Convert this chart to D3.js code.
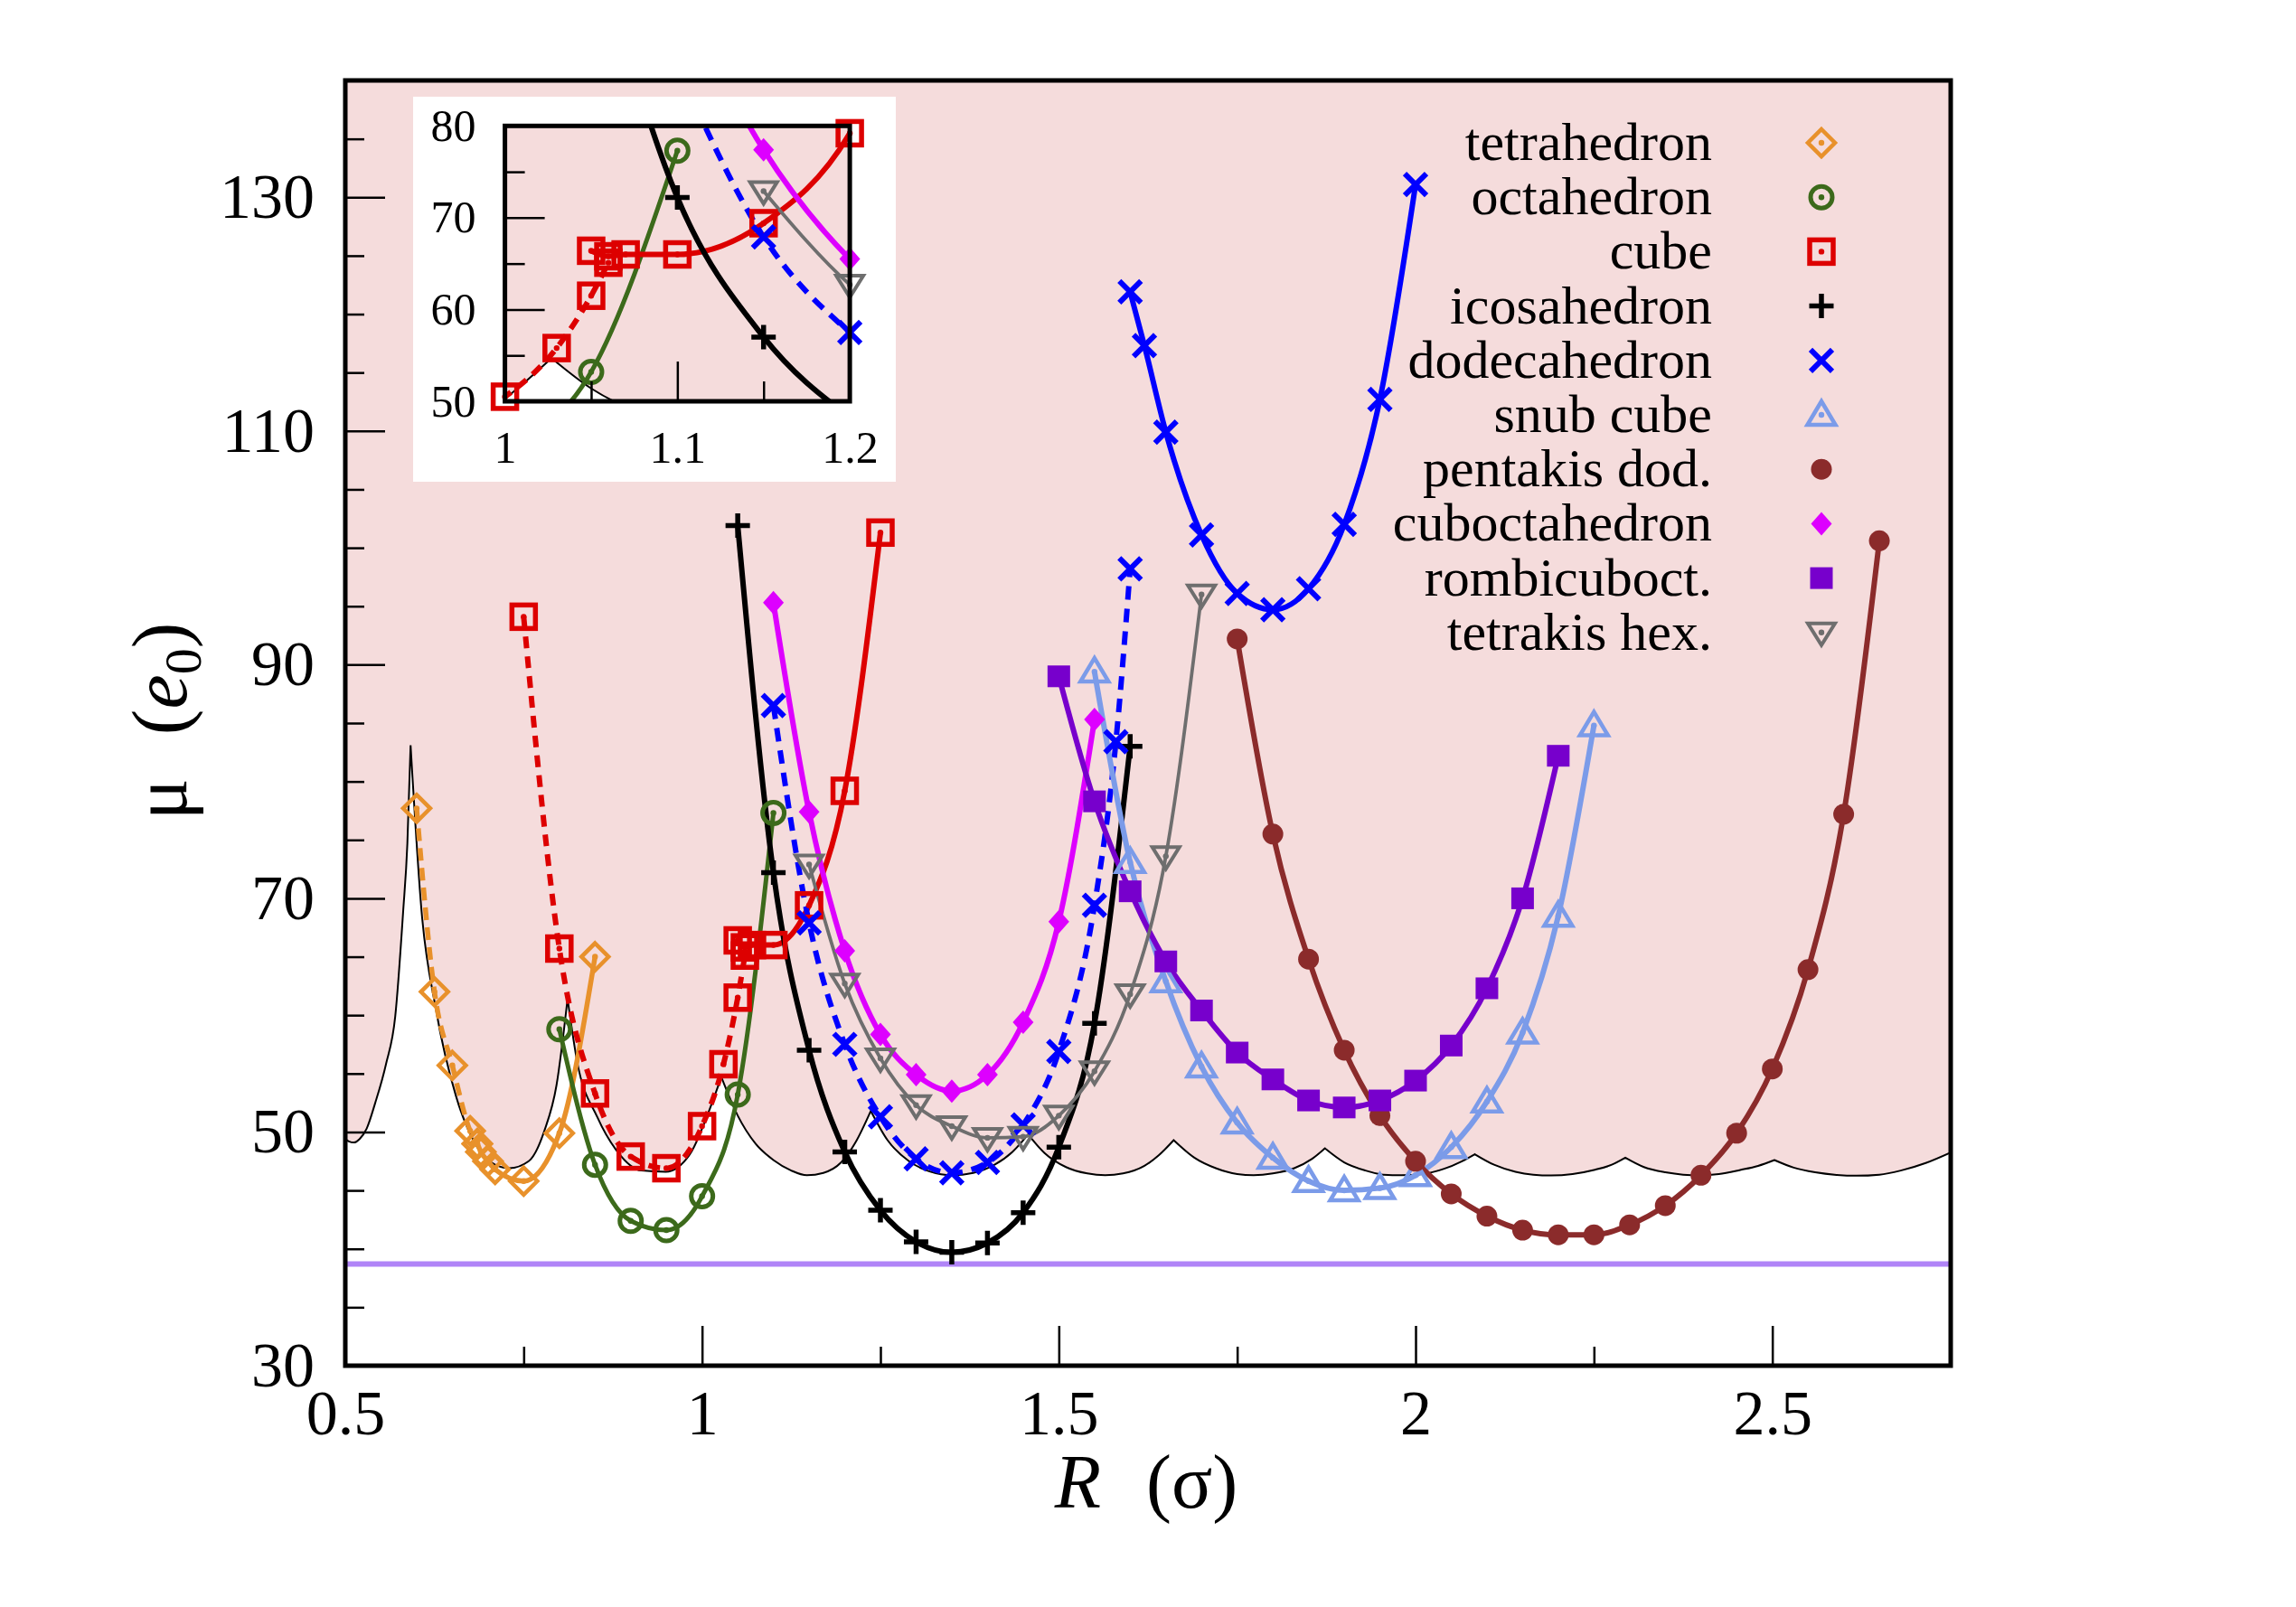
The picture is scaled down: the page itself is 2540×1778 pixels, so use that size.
<!DOCTYPE html>
<html>
<head>
<meta charset="utf-8">
<script src="https://cdnjs.cloudflare.com/ajax/libs/d3/7.8.5/d3.min.js"></script>
<style>
  body { margin: 0; background: #fff; }
  text { font-family: "Liberation Serif", "Times New Roman", serif; fill: #000; }
</style>
</head>
<body>
<div id="chart"></div>
<script>
/* ------------------------------- data ------------------------------- */
// [R, mu] pairs
var tetraDashed = [[0.6,77.7],[0.625,62.0],[0.65,55.7],[0.675,50.1],[0.685,49.0]];
var tetraSolid  = [[0.685,49.0],[0.69,48.3],[0.70,47.5],[0.71,46.8],[0.75,45.8],[0.80,49.9],[0.85,65.0]];
var octa        = [[0.8,58.8],[0.85,47.2],[0.9,42.4],[0.95,41.6],[1.0,44.5],[1.05,53.2],[1.1,77.3]];
var cubeDashed  = [[0.75,94.1],[0.8,65.7],[0.85,53.3],[0.9,47.9],[0.95,46.9],[1.0,50.5],[1.03,55.8],[1.05,61.5],[1.06,65.1]];
var cubeSolid   = [[1.05,66.4],[1.06,65.8],[1.07,66.0],[1.1,66.0],[1.15,69.4],[1.2,79.2],[1.25,101.3]];
var ico         = [[1.05,101.9],[1.1,72.2],[1.15,57.0],[1.2,48.3],[1.25,43.3],[1.3,40.6],[1.35,39.7],[1.4,40.5],[1.45,43.1],[1.5,48.7],[1.55,59.3],[1.6,83.0]];
var dodecaDashed = [[1.1,86.5],[1.15,67.9],[1.2,57.5],[1.25,51.3],[1.3,47.7],[1.35,46.5],[1.4,47.4],[1.45,50.6],[1.5,56.9],[1.55,69.4],[1.58,83.4],[1.6,98.2]];
var dodecaSolid  = [[1.6,121.9],[1.62,117.3],[1.65,109.9],[1.7,101.1],[1.75,96.1],[1.8,94.7],[1.85,96.5],[1.9,102.0],[1.95,112.7],[2.0,131.1]];
var snub        = [[1.55,89.4],[1.6,73.1],[1.65,62.9],[1.7,55.6],[1.75,50.8],[1.8,47.8],[1.85,45.8],[1.9,45.0],[1.95,45.2],[2.0,46.3],[2.05,48.7],[2.1,52.6],[2.15,58.5],[2.2,68.5],[2.25,84.8]];
var pentakis    = [[1.75,92.2],[1.8,75.5],[1.85,64.8],[1.9,57.0],[1.95,51.4],[2.0,47.5],[2.05,44.7],[2.1,42.8],[2.15,41.6],[2.2,41.2],[2.25,41.2],[2.3,42.05],[2.35,43.7],[2.4,46.3],[2.45,49.9],[2.5,55.4],[2.55,63.9],[2.6,77.2],[2.65,100.6]];
var cubo        = [[1.1,95.3],[1.15,77.4],[1.2,65.5],[1.25,58.35],[1.3,54.9],[1.35,53.5],[1.4,54.9],[1.45,59.4],[1.5,68.0],[1.55,85.3]];
var rombi       = [[1.5,89.0],[1.55,78.3],[1.6,70.6],[1.65,64.6],[1.7,60.4],[1.75,56.8],[1.8,54.5],[1.85,52.7],[1.9,52.1],[1.95,52.7],[2.0,54.4],[2.05,57.4],[2.1,62.3],[2.15,70.0],[2.2,82.2]];
var tetrakis    = [[1.15,72.9],[1.2,62.7],[1.25,56.3],[1.3,52.3],[1.35,50.5],[1.4,49.5],[1.45,49.6],[1.5,51.4],[1.55,55.2],[1.6,61.8],[1.65,73.6],[1.7,96.0]];

// thin black boundary (pink above it), one arc between each pair of cusps
var boundaryArcs = [
  [[0.5,49.4],[0.505,49.2],[0.512,49.1],[0.52,49.4],[0.53,50.3],[0.542,52.5],[0.557,55.8],[0.57,59.9],[0.581,68.8],[0.587,74.7],[0.5915,83.1]],
  [[0.5915,83.1],[0.607,68.8],[0.627,60.5],[0.655,53.1],[0.683,48.9],[0.71,47.2],[0.73,46.9],[0.757,47.5],[0.779,50.1],[0.796,54.0],[0.8115,61.4]],
  [[0.8115,61.4],[0.825,56.0],[0.853,51.3],[0.881,48.35],[0.915,46.7],[0.949,46.6],[0.983,48.1],[1.011,52.0],[1.027,54.7]],
  [[1.027,54.7],[1.05,51.4],[1.075,49.0],[1.1,47.6],[1.125,46.7],[1.147,46.3],[1.17,46.5],[1.195,47.4],[1.215,49.1],[1.2365,51.8]],
  [[1.2365,51.8],[1.26,49.3],[1.29,47.5],[1.32,46.6],[1.35,46.3],[1.38,46.5],[1.41,47.2],[1.435,48.3],[1.457,49.8]],
  [[1.457,49.8],[1.48,48.2],[1.51,47.0],[1.54,46.45],[1.565,46.3],[1.59,46.45],[1.62,47.1],[1.64,48.0],[1.661,49.3]],
  [[1.661,49.3],[1.69,47.8],[1.72,46.9],[1.75,46.4],[1.773,46.3],[1.8,46.45],[1.83,46.9],[1.855,47.7],[1.873,48.6]],
  [[1.873,48.6],[1.9,47.4],[1.93,46.7],[1.955,46.35],[1.98,46.3],[2.01,46.4],[2.04,46.85],[2.065,47.5],[2.083,48.1]],
  [[2.083,48.1],[2.11,47.2],[2.14,46.6],[2.165,46.35],[2.19,46.28],[2.22,46.4],[2.25,46.75],[2.275,47.2],[2.294,47.8]],
  [[2.294,47.8],[2.32,47.0],[2.35,46.55],[2.375,46.35],[2.398,46.3],[2.425,46.4],[2.455,46.75],[2.48,47.1],[2.503,47.6]],
  [[2.503,47.6],[2.53,46.95],[2.56,46.55],[2.59,46.33],[2.618,46.26],[2.65,46.35],[2.68,46.7],[2.715,47.35],[2.75,48.25]]
];
var groundLevel = 38.7;

// axes
var xDomain = [0.5, 2.75], yDomain = [30, 140];
var xMajorTicks = [0.5, 1, 1.5, 2, 2.5];
var xMinorTicks = [0.75, 1.25, 1.75, 2.25];
var yMajorTicks = [30, 50, 70, 90, 110, 130];
var yMinorTicks = [35, 40, 45, 55, 60, 65, 75, 80, 85, 95, 100, 105, 115, 120, 125, 135];
var insetXDomain = [1, 1.2], insetYDomain = [50, 80];
var insetXMajorTicks = [1, 1.1, 1.2];
var insetXMinorTicks = [1.05, 1.15];
var insetYMajorTicks = [50, 60, 70, 80];
var insetYMinorTicks = [55, 65, 75];

var legendNames = ["tetrahedron", "octahedron", "cube", "icosahedron", "dodecahedron",
  "snub cube", "pentakis dod.", "cuboctahedron", "rombicuboct.", "tetrakis hex."];

/* ------------------------------- styles ------------------------------- */
var series = [
  { color: "#e8912b", marker: "diamondOpen", lw: 5.5, segs: [{ pts: tetraDashed, dash: "14,8" }, { pts: tetraSolid }] },
  { color: "#3c6a1b", marker: "circleOpen", lw: 5, segs: [{ pts: octa }] },
  { color: "#dd0000", marker: "squareOpen", lw: 6, segs: [{ pts: cubeDashed, dash: "13,9" }, { pts: cubeSolid }] },
  { color: "#000000", marker: "plus", lw: 6, segs: [{ pts: ico }] },
  { color: "#0000ff", marker: "cross", lw: 6, segs: [{ pts: dodecaDashed, dash: "15,10" }, { pts: dodecaSolid }] },
  { color: "#7b9be9", marker: "triUpOpen", lw: 6, segs: [{ pts: snub }] },
  { color: "#8b2b2b", marker: "circleFilled", lw: 6, segs: [{ pts: pentakis }] },
  { color: "#dd00ff", marker: "diamondFilled", lw: 6, segs: [{ pts: cubo }] },
  { color: "#7700cc", marker: "squareFilled", lw: 6, segs: [{ pts: rombi }] },
  { color: "#6e6e6e", marker: "triDownOpen", lw: 3.8, segs: [{ pts: tetrakis }] }
];

var pink = "#f5dcdc";
var w = 2540, h = 1778;
var margin = { top: 89, left: 382 };
var width = 1776, height = 1422;

var svg = d3.select("#chart").append("svg")
  .attr("width", w)
  .attr("height", h);
svg.append("rect").attr("width", w).attr("height", h).attr("fill", "#fff");

// one marker glyph centred on (cx, cy)
function addMarker(g, type, color, cx, cy) {
  var m = g.append("g").attr("transform", "translate(" + cx + "," + cy + ")");
  var dot = false;
  if (type == "diamondOpen") {
    m.append("path").attr("d", "M0,-15L15,0L0,15L-15,0Z").attr("fill", "none").attr("stroke", color).attr("stroke-width", 4.5);
    dot = true;
  } else if (type == "circleOpen") {
    m.append("circle").attr("r", 12).attr("fill", "none").attr("stroke", color).attr("stroke-width", 5);
    dot = true;
  } else if (type == "squareOpen") {
    m.append("rect").attr("x", -13).attr("y", -13).attr("width", 26).attr("height", 26)
      .attr("fill", "none").attr("stroke", color).attr("stroke-width", 5.5);
    dot = true;
  } else if (type == "plus") {
    m.append("path").attr("d", "M-13.5,0H13.5M0,-13.5V13.5").attr("stroke", color).attr("stroke-width", 5.5);
  } else if (type == "cross") {
    m.append("path").attr("d", "M-12,-12L12,12M-12,12L12,-12").attr("stroke", color).attr("stroke-width", 6);
  } else if (type == "triUpOpen") {
    m.append("path").attr("d", "M0,-15L15.5,11L-15.5,11Z").attr("fill", "none").attr("stroke", color).attr("stroke-width", 4.5);
    dot = true;
  } else if (type == "circleFilled") {
    m.append("circle").attr("r", 11.5).attr("fill", color);
  } else if (type == "diamondFilled") {
    m.append("path").attr("d", "M0,-13L11.5,0L0,13L-11.5,0Z").attr("fill", color);
  } else if (type == "squareFilled") {
    m.append("rect").attr("x", -12.5).attr("y", -12).attr("width", 25).attr("height", 24).attr("fill", color);
  } else if (type == "triDownOpen") {
    m.append("path").attr("d", "M-15,-10L15,-10L0,14Z").attr("fill", "none").attr("stroke", color).attr("stroke-width", 4);
    dot = true;
  }
  if (dot) m.append("circle").attr("r", 3.2).attr("fill", color);
}

// everything that lives inside a plotting frame (main and inset share it)
function drawPanel(g, xScale, yScale, pw, ph, clipId, markerFilter) {
  g.append("clipPath").attr("id", clipId)
    .append("rect").attr("width", pw).attr("height", ph);
  var inner = g.append("g").attr("clip-path", "url(#" + clipId + ")");

  var line = d3.line()
    .x(function(d) { return xScale(d[0]); })
    .y(function(d) { return yScale(d[1]); })
    .curve(d3.curveMonotoneX);

  // pink region above the boundary
  var edge = boundaryArcs.map(function(a, i) {
    var s = line(a);
    return i ? "L" + s.slice(1) : s;
  }).join("");
  var top = yScale(yDomain[1] + 200);
  inner.append("path")
    .attr("d", edge + "L" + xScale(xDomain[1]) + "," + top + "L" + xScale(xDomain[0]) + "," + top + "Z")
    .attr("fill", pink);
  inner.append("path").attr("d", edge).attr("fill", "none").attr("stroke", "#000").attr("stroke-width", 2);

  inner.append("line")
    .attr("x1", 0).attr("x2", pw)
    .attr("y1", yScale(groundLevel)).attr("y2", yScale(groundLevel))
    .attr("stroke", "#b084f7").attr("stroke-width", 6);

  series.forEach(function(s) {
    s.segs.forEach(function(seg) {
      inner.append("path")
        .attr("d", line(seg.pts))
        .attr("fill", "none")
        .attr("stroke", s.color)
        .attr("stroke-width", s.lw)
        .attr("stroke-linejoin", "round")
        .attr("stroke-dasharray", seg.dash || null);
    });
    var mg = g.append("g");
    s.segs.forEach(function(seg) {
      seg.pts.forEach(function(p) {
        if (markerFilter(p)) addMarker(mg, s.marker, s.color, xScale(p[0]), yScale(p[1]));
      });
    });
  });
}

// inward ticks and labels on left and bottom, then the frame
function drawAxes(g, xScale, yScale, pw, ph, t) {
  var clean = function(sel) {
    sel.attr("font-family", null).attr("font-size", null);
    sel.select(".domain").remove();
    sel.selectAll("line").attr("stroke", "#000").attr("stroke-width", 2.5);
    sel.selectAll("text").attr("font-size", t.fs);
  };
  g.append("g").call(d3.axisLeft(yScale).tickValues(t.yMajor).tickSize(-t.major).tickPadding(t.padY).tickFormat(d3.format("")))
    .call(clean);
  g.append("g").call(d3.axisLeft(yScale).tickValues(t.yMinor).tickSize(-t.minor).tickFormat(""))
    .call(clean);
  g.append("g").attr("transform", "translate(0," + ph + ")")
    .call(d3.axisBottom(xScale).tickValues(t.xMajor).tickSize(-t.major).tickPadding(t.padX).tickFormat(d3.format("")))
    .call(clean);
  g.append("g").attr("transform", "translate(0," + ph + ")")
    .call(d3.axisBottom(xScale).tickValues(t.xMinor).tickSize(-t.minor).tickFormat(""))
    .call(clean);
  g.append("rect").attr("width", pw).attr("height", ph)
    .attr("fill", "none").attr("stroke", "#000").attr("stroke-width", 5);
}

/* ------------------------------- main plot ------------------------------- */
var xScale = d3.scaleLinear().domain(xDomain).range([0, width]);
var yScale = d3.scaleLinear().domain(yDomain).range([height, 0]);

var chart = svg.append("g")
  .attr("transform", "translate(" + margin.left + "," + margin.top + ")");

drawPanel(chart, xScale, yScale, width, height, "clipMain", function() { return true; });
drawAxes(chart, xScale, yScale, width, height, {
  xMajor: xMajorTicks, xMinor: xMinorTicks, yMajor: yMajorTicks, yMinor: yMinorTicks,
  major: 44, minor: 21, padX: 26, padY: 34, fs: 70
});

/* ------------------------------- inset ------------------------------- */
svg.append("rect").attr("x", 457).attr("y", 107).attr("width", 534).attr("height", 426).attr("fill", "#fff");

var insetW = 381.5, insetH = 304.7;
var insetX = d3.scaleLinear().domain(insetXDomain).range([0, insetW]);
var insetY = d3.scaleLinear().domain(insetYDomain).range([insetH, 0]);
var inset = svg.append("g").attr("transform", "translate(558.6,139.3)");

drawPanel(inset, insetX, insetY, insetW, insetH, "clipInset", function(p) {
  return p[0] >= insetXDomain[0] - 0.001 && p[0] <= insetXDomain[1] + 0.001 &&
         p[1] >= insetYDomain[0] - 1 && p[1] <= insetYDomain[1] + 1;
});
drawAxes(inset, insetX, insetY, insetW, insetH, {
  xMajor: insetXMajorTicks, xMinor: insetXMinorTicks, yMajor: insetYMajorTicks, yMinor: insetYMinorTicks,
  major: 44, minor: 22, padX: 32, padY: 32, fs: 50
});

/* ------------------------------- legend ------------------------------- */
var legend = svg.append("g");
legendNames.forEach(function(name, i) {
  var ly = 158 + i * 60.2;
  legend.append("text")
    .attr("x", 1894).attr("y", ly + 19)
    .attr("text-anchor", "end")
    .attr("font-size", 60)
    .text(name);
  addMarker(legend, series[i].marker, series[i].color, 2015, ly);
});

/* ------------------------------- axis titles ------------------------------- */
var xt = svg.append("text")
  .attr("x", 1268).attr("y", 1668)
  .attr("text-anchor", "middle")
  .attr("font-size", 84);
xt.append("tspan").attr("font-style", "italic").text("R");
xt.append("tspan").attr("dx", 50).text("(σ)");

var yt = svg.append("text")
  .attr("transform", "translate(206,798) rotate(-90)")
  .attr("text-anchor", "middle")
  .attr("font-size", 86);
yt.append("tspan").text("μ");
yt.append("tspan").attr("dx", 48).text("(");
yt.append("tspan").attr("font-style", "italic").text("e");
yt.append("tspan").attr("font-size", 58).attr("dy", 16).text("0");
yt.append("tspan").attr("dy", -16).text(")");
</script>
</body>
</html>
